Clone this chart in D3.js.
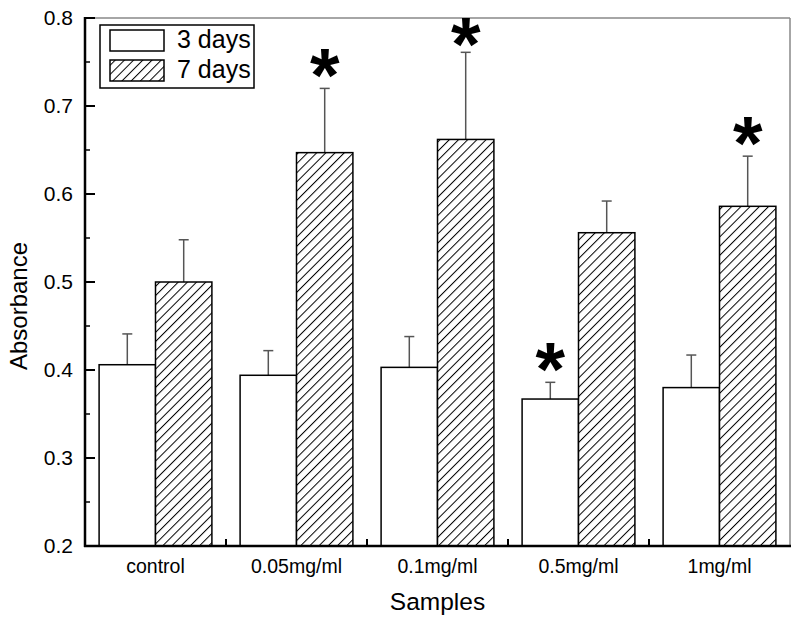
<!DOCTYPE html>
<html><head><meta charset="utf-8">
<script src="https://cdn.jsdelivr.net/npm/d3@7"></script>
<style>body{margin:0;background:#fff}text{font-family:Arial,"Liberation Sans",sans-serif}</style>
</head><body><svg id="c" width="800" height="625"></svg>
<script>
const categories = ["control","0.05mg/ml","0.1mg/ml","0.5mg/ml","1mg/ml"];
const seriesNames = ["3 days","7 days"];
const values3 = [0.406,0.394,0.403,0.367,0.380];
const err3    = [0.035,0.028,0.035,0.019,0.037];
const values7 = [0.500,0.647,0.662,0.556,0.586];
const err7    = [0.048,0.073,0.099,0.036,0.057];
// significance markers: [category index, series index]
const stars = [[1,1],[2,1],[3,0],[4,1]];
const yTicks = [0.2,0.3,0.4,0.5,0.6,0.7,0.8];

const svg = d3.select("#c");
const L=85,R=790,T=18,B=546;
const x = d3.scaleBand().domain(categories).range([L,R]).padding(0);
const y = d3.scaleLinear().domain([0.2,0.8]).range([B,T]);
const barW = x.bandwidth()*0.4;

const defs = svg.append("defs");
const P = 6.5;
const pat = defs.append("pattern").attr("id","hatch").attr("patternUnits","userSpaceOnUse")
  .attr("width",P).attr("height",P).attr("patternTransform","rotate(45)");
pat.append("rect").attr("width",P).attr("height",P).attr("fill","#fff");
pat.append("line").attr("x1",0.5).attr("y1",0).attr("x2",0.5).attr("y2",P).attr("stroke","#000").attr("stroke-width",1);

// frame top/right
svg.append("line").attr("x1",L).attr("x2",R).attr("y1",T).attr("y2",T).attr("stroke","#888").attr("stroke-width",1.5);
svg.append("line").attr("x1",R).attr("x2",R).attr("y1",T).attr("y2",B).attr("stroke","#888").attr("stroke-width",1.5);

const data = [];
categories.forEach((c,i)=>{
  data.push({c,s:0,v:values3[i],e:err3[i]});
  data.push({c,s:1,v:values7[i],e:err7[i]});
});
const bx = d => x(d.c)+x.bandwidth()/2 + (d.s===0?-barW:0);

// error bars
const eb = svg.append("g").attr("stroke","#555").attr("stroke-width",1.5);
data.forEach(d=>{
  const cx = bx(d)+barW/2;
  eb.append("line").attr("x1",cx).attr("x2",cx).attr("y1",y(d.v)).attr("y2",y(d.v+d.e));
  eb.append("line").attr("x1",cx-5).attr("x2",cx+5).attr("y1",y(d.v+d.e)).attr("y2",y(d.v+d.e));
});

// bars
svg.append("g").selectAll("rect").data(data).join("rect")
  .attr("x",bx).attr("width",barW)
  .attr("y",d=>y(d.v)).attr("height",d=>y(0.2)-y(d.v))
  .attr("fill",d=>d.s===0?"#fff":"url(#hatch)")
  .attr("stroke","#000").attr("stroke-width",1.5);

// stars
stars.forEach(([ci,si])=>{
  const d = data[ci*2+si];
  svg.append("text").attr("x",bx(d)+barW/2).attr("y",Math.max(y(d.v+d.e)+13, 70))
    .attr("text-anchor","middle")
    .attr("font-size",76).attr("font-weight","bold").text("*");
});

// y axis
const yAxis = d3.axisLeft(y).tickValues(yTicks).tickFormat(d3.format(".1f")).tickSize(0).tickPadding(12);
const gy = svg.append("g").attr("transform",`translate(${L},0)`).call(yAxis);
gy.select(".domain").remove();
gy.selectAll("text").attr("font-size",21).attr("fill","#000");
yTicks.forEach(t=>svg.append("line").attr("x1",L).attr("x2",L+10).attr("y1",y(t)).attr("y2",y(t)).attr("stroke","#000").attr("stroke-width",2));
d3.range(0.25,0.8,0.1).forEach(t=>svg.append("line").attr("x1",L).attr("x2",L+5).attr("y1",y(t)).attr("y2",y(t)).attr("stroke","#000").attr("stroke-width",1.5));

// x axis
const xAxis = d3.axisBottom(x).tickSize(0).tickPadding(13);
const gx = svg.append("g").attr("transform",`translate(0,${B})`).call(xAxis);
gx.select(".domain").remove();
gx.selectAll("text").attr("font-size",19.5).attr("fill","#000");
categories.slice(1).forEach(c=>svg.append("line").attr("x1",x(c)).attr("x2",x(c)).attr("y1",B).attr("y2",B-7).attr("stroke","#000").attr("stroke-width",2));

svg.append("line").attr("x1",L).attr("x2",L).attr("y1",T-1).attr("y2",B+1).attr("stroke","#000").attr("stroke-width",2.5);
svg.append("line").attr("x1",L-1).attr("x2",R+1).attr("y1",B).attr("y2",B).attr("stroke","#000").attr("stroke-width",2.5);

// axis titles
svg.append("text").attr("x",(L+R)/2).attr("y",610).attr("text-anchor","middle").attr("font-size",24.5).text("Samples");
svg.append("text").attr("transform","translate(27,306) rotate(-90)").attr("text-anchor","middle").attr("font-size",24).text("Absorbance");

// legend
const lg = svg.append("g");
lg.append("rect").attr("x",100).attr("y",25).attr("width",154).attr("height",63).attr("fill","#fff").attr("stroke","#000").attr("stroke-width",1.5);
seriesNames.forEach((n,i)=>{
  lg.append("rect").attr("x",110).attr("y",30+i*30).attr("width",54).attr("height",21)
    .attr("fill",i===0?"#fff":"url(#hatch)").attr("stroke","#000").attr("stroke-width",1.5);
  lg.append("text").attr("x",177).attr("y",48+i*30).attr("font-size",25).text(n);
});
</script></body></html>
